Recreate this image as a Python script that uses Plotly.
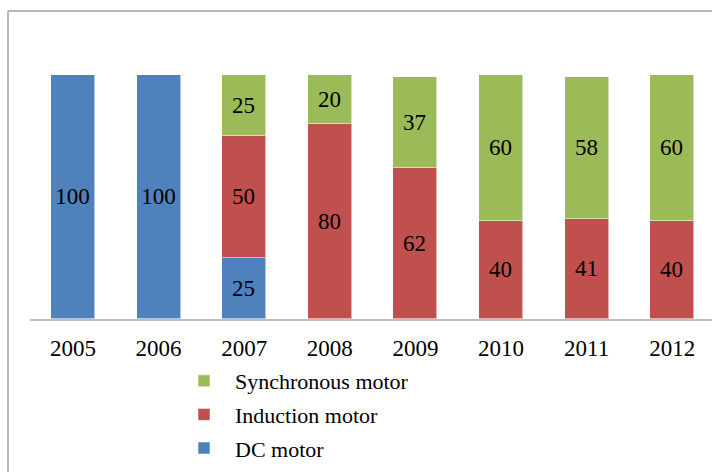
import plotly.graph_objects as go

years = ["2005", "2006", "2007", "2008", "2009", "2010", "2011", "2012"]
dc_motor = [100, 100, 25, 0, 0, 0, 0, 0]
induction_motor = [0, 0, 50, 80, 62, 40, 41, 40]
synchronous_motor = [0, 0, 25, 20, 37, 60, 58, 60]

series = [
    ("DC motor", dc_motor, "#4F81BD", 3),
    ("Induction motor", induction_motor, "#C0504D", 2),
    ("Synchronous motor", synchronous_motor, "#9BBB59", 1),
]

W, H = 712, 472
ml, mr, mt, mb = 30, 0, 30, 153
pw, ph = W - ml - mr, H - mt - mb
FONT = "Liberation Serif, Times New Roman, serif"

fig = go.Figure()
for name, vals, color, rank in series:
    fig.add_trace(go.Bar(
        x=list(range(len(years))),
        y=[v if v else None for v in vals],
        name="  " + name,
        text=[str(v) if v else "" for v in vals],
        textposition="inside",
        insidetextanchor="middle",
        textangle=0,
        constraintext="none",
        textfont=dict(family=FONT, size=23, color="black"),
        marker=dict(color=color, line=dict(color="rgba(255,255,255,0.55)", width=1)),
        width=0.514,
        legendgroup=name,
        legendrank=rank,
    ))

# chart-area frame: only top and left edges are visible in the window
bx0 = (8 - ml) / pw
by1 = (H - mb - 11) / ph
fig.add_shape(type="line", xref="paper", yref="paper",
              x0=bx0, x1=(W + 10 - ml) / pw, y0=by1, y1=by1,
              line=dict(color="#A0A0A0", width=1.5), layer="below")
fig.add_shape(type="line", xref="paper", yref="paper",
              x0=bx0, x1=bx0, y0=-(mb + 10) / ph, y1=by1,
              line=dict(color="#A0A0A0", width=1.5), layer="below")

fig.update_layout(
    width=W, height=H, autosize=False,
    margin=dict(l=ml, r=mr, t=mt, b=mb, pad=0),
    barmode="stack",
    bargap=0,
    plot_bgcolor="white", paper_bgcolor="white",
    font=dict(family=FONT, size=23, color="black"),
    xaxis=dict(
        tickmode="array", tickvals=list(range(len(years))), ticktext=years,
        range=[-0.502, 7.465], showgrid=False, zeroline=False,
        showline=True, linecolor="#BFBFBF", linewidth=1.5,
        ticks="", tickfont=dict(family=FONT, size=23, color="black"),
        ticklabelstandoff=8,
    ),
    yaxis=dict(range=[0, ph / 2.44], visible=False, showgrid=False, zeroline=False),
    legend=dict(
        traceorder="grouped",
        tracegroupgap=2,
        x=(184 - ml) / pw, xanchor="left",
        y=-(360 - (H - mb)) / ph, yanchor="top",
        font=dict(family=FONT, size=22, color="black"),
        bgcolor="rgba(0,0,0,0)",
    ),
    showlegend=True,
)

fig.write_html(
    "out.html",
    config={"responsive": False, "displayModeBar": False},
    default_width="712px", default_height="472px",
    post_script=(
        "document.body.style.margin='0';"
        "document.body.style.overflow='hidden';"
        "document.documentElement.style.overflow='hidden';"
    ),
)
